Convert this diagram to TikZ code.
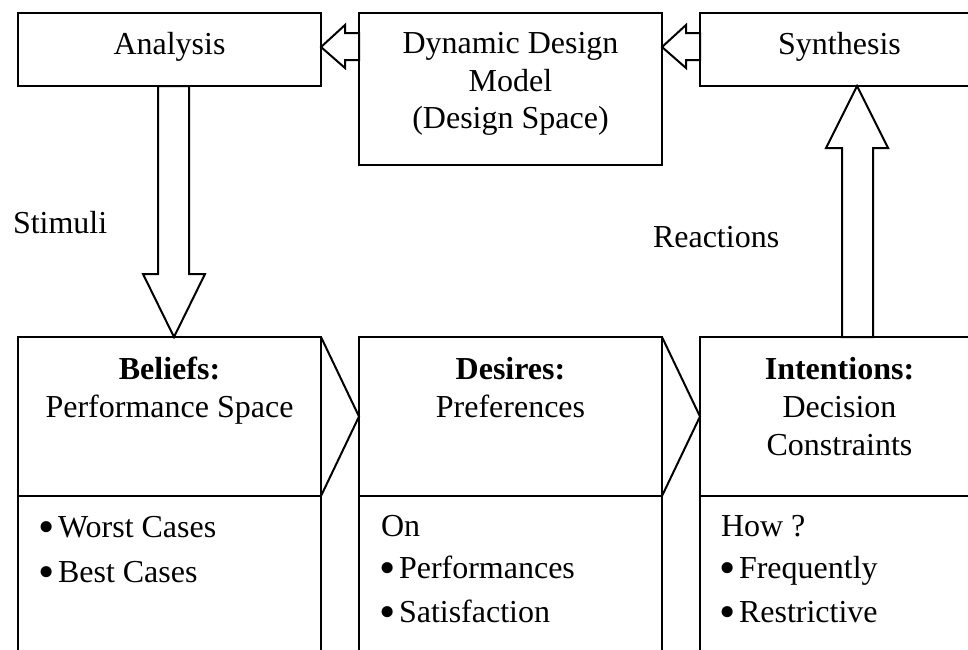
\documentclass[tikz,border=0pt]{standalone}
\usepackage{fontspec}
\setmainfont{Liberation Serif}
\usepackage{graphicx}
\usetikzlibrary{fit,calc}
\newcommand\bulletmark{\makebox[10pt][l]{\raisebox{-2.8pt}{\scalebox{1.45}{\textbullet}}}}
\begin{document}
\begin{tikzpicture}[x=0.5pt,y=-0.5pt,
  box/.style={draw,line width=1pt,inner sep=0pt,outer sep=0pt,rectangle},
  blockarrow/.style={draw,line width=1pt,fill=white,line join=miter},
  lbl/.style={inner sep=0pt,outer sep=0pt,anchor=base,font=\fontsize{16pt}{19pt}\selectfont},
  lbll/.style={lbl,anchor=base west}]
\useasboundingbox (0,0) rectangle (968,649);
\clip (0,0) rectangle (968,649);
\fill[white] (0,0) rectangle (968,649);

% top boxes
\node[box,fit={(18,13) (321,86)}] (ana) {};
\node[box,fit={(359,13) (662,165)}] (ddm) {};
\node[box,fit={(700,13) (979,86)}] (syn) {};

% bottom boxes (upper parts)
\node[box,fit={(18,337) (321,496)}] (bel) {};
\node[box,fit={(359,337) (662,496)}] (des) {};
\node[box,fit={(700,337) (979,496)}] (int) {};
% bottom boxes (lower parts)
\node[box,fit={(18,496) (321,700)}] (belL) {};
\node[box,fit={(359,496) (662,700)}] (desL) {};
\node[box,fit={(700,496) (979,700)}] (intL) {};

% chevrons
\draw[line width=1pt,line join=miter] (bel.north east) -- (des.west) -- (bel.south east);
\draw[line width=1pt,line join=miter] (des.north east) -- (int.west) -- (des.south east);

% block arrows
\draw[blockarrow] (ana.east |- 0,47) -- ++(24,-22) -- ++(0,8) -- (ddm.west |- 0,33)
  -- (ddm.west |- 0,60) -- ++(-14,0) -- ++(0,8) -- cycle;
\draw[blockarrow] (ddm.east |- 0,47) -- ++(24,-22) -- ++(0,8) -- (syn.west |- 0,33)
  -- (syn.west |- 0,60) -- ++(-14,0) -- ++(0,8) -- cycle;
\draw[blockarrow] (158,0 |- ana.south) -- (158,274) -- (143,274) -- (174,0 |- bel.north)
  -- (205,274) -- (189,274) -- (189,0 |- ana.south) -- cycle;
\draw[blockarrow] (842,0 |- int.north) -- (842,148) -- (826,148) -- (857,0 |- syn.south)
  -- (888,148) -- (873,148) -- (873,0 |- int.north) -- cycle;

% texts
\node[lbl] (tana) at (169.5,54) {Analysis};
\node[lbl] (tddm1) at (510.5,53) {Dynamic Design};
\node[lbl] (tddm2) at (510.5,91) {Model};
\node[lbl] (tddm3) at (510.5,128) {(Design Space)};
\node[lbl] (tsyn) at (839.5,54) {Synthesis};
\node[lbll] (tsti) at (13,233) {Stimuli};
\node[lbll] (trea) at (653,247) {Reactions};

\node[lbl] (tbel1) at (169.5,379) {\textbf{Beliefs:}};
\node[lbl] (tbel2) at (169.5,417) {Performance Space};
\node[lbl] (tdes1) at (510.5,379) {\textbf{Desires:}};
\node[lbl] (tdes2) at (510.5,417) {Preferences};
\node[lbl] (tint1) at (839.5,379) {\textbf{Intentions:}};
\node[lbl] (tint2) at (839.5,417) {Decision};
\node[lbl] (tint3) at (839.5,455) {Constraints};

\node[lbll] (b1) at (38,537) {\bulletmark Worst Cases};
\node[lbll] (b2) at (38,582) {\bulletmark Best Cases};
\node[lbll] (d0) at (381,536) {On};
\node[lbll] (d1) at (379,578) {\bulletmark Performances};
\node[lbll] (d2) at (379,622) {\bulletmark Satisfaction};
\node[lbll] (i0) at (721,536) {How ?};
\node[lbll] (i1) at (719,578) {\bulletmark Frequently};
\node[lbll] (i2) at (719,622) {\bulletmark Restrictive};
\end{tikzpicture}
\end{document}
